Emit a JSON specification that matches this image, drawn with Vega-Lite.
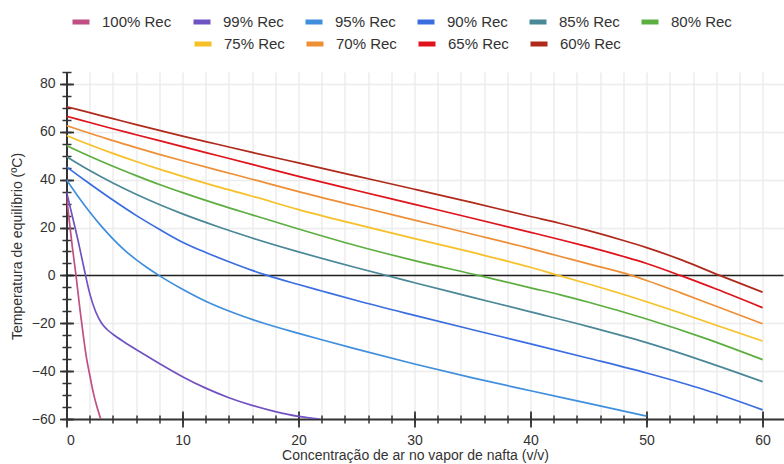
{
  "$schema": "https://vega.github.io/schema/vega-lite/v6.json",
  "width": 717,
  "height": 347,
  "autosize": {"type": "none"},
  "padding": {"left": 66.5, "top": 72, "right": 0.5, "bottom": 45},
  "background": "white",
  "config": {
    "view": {"stroke": null},
    "font": "Liberation Sans",
    "axis": {"labelFont": "Liberation Sans", "titleFont": "Liberation Sans", "labelColor": "#333", "titleColor": "#333", "titleFontWeight": "normal", "labelFontSize": 14, "titleFontSize": 14, "tickColor": "#333", "domainColor": "#333"},
    "legend": {"labelFont": "Liberation Sans", "labelFontSize": 15, "labelColor": "#333", "symbolType": "stroke", "symbolStrokeWidth": 5, "symbolSize": 289, "labelOffset": 10, "columnPadding": 11, "padding": 0, "direction": "horizontal", "orient": "none"}
  },
  "data": {
    "values": [
      {"s": "100% Rec", "x": 0, "y": 33}, {"s": "100% Rec", "x": 0.25, "y": 22.5}, {"s": "100% Rec", "x": 0.5, "y": 12}, {"s": "100% Rec", "x": 0.82, "y": 0}, {"s": "100% Rec", "x": 1.16, "y": -14.2}, {"s": "100% Rec", "x": 1.5, "y": -27}, {"s": "100% Rec", "x": 1.74, "y": -35}, {"s": "100% Rec", "x": 2.0, "y": -41.5}, {"s": "100% Rec", "x": 2.31, "y": -49}, {"s": "100% Rec", "x": 2.6, "y": -54.5}, {"s": "100% Rec", "x": 2.95, "y": -60},
      {"s": "99% Rec", "x": 0, "y": 35}, {"s": "99% Rec", "x": 0.5, "y": 24.8}, {"s": "99% Rec", "x": 1.0, "y": 14.5}, {"s": "99% Rec", "x": 1.5, "y": 3.2}, {"s": "99% Rec", "x": 2.0, "y": -7.5}, {"s": "99% Rec", "x": 2.5, "y": -15}, {"s": "99% Rec", "x": 3.0, "y": -19.8}, {"s": "99% Rec", "x": 3.5, "y": -22.6}, {"s": "99% Rec", "x": 4, "y": -24.6}, {"s": "99% Rec", "x": 5, "y": -27.9}, {"s": "99% Rec", "x": 6.6, "y": -32.7}, {"s": "99% Rec", "x": 8, "y": -36.8}, {"s": "99% Rec", "x": 10, "y": -42.3}, {"s": "99% Rec", "x": 12, "y": -47.1}, {"s": "99% Rec", "x": 14, "y": -51.1}, {"s": "99% Rec", "x": 16, "y": -54.3}, {"s": "99% Rec", "x": 18, "y": -56.9}, {"s": "99% Rec", "x": 20, "y": -58.9}, {"s": "99% Rec", "x": 21.8, "y": -60},
      {"s": "95% Rec", "x": 0, "y": 40}, {"s": "95% Rec", "x": 1, "y": 33}, {"s": "95% Rec", "x": 2, "y": 26.5}, {"s": "95% Rec", "x": 3, "y": 20.6}, {"s": "95% Rec", "x": 4, "y": 15.3}, {"s": "95% Rec", "x": 5, "y": 10.6}, {"s": "95% Rec", "x": 6, "y": 6.6}, {"s": "95% Rec", "x": 7, "y": 3.1}, {"s": "95% Rec", "x": 8, "y": -0.1}, {"s": "95% Rec", "x": 10, "y": -5.8}, {"s": "95% Rec", "x": 12, "y": -10.8}, {"s": "95% Rec", "x": 14, "y": -14.9}, {"s": "95% Rec", "x": 17, "y": -20}, {"s": "95% Rec", "x": 20, "y": -24.2}, {"s": "95% Rec", "x": 22, "y": -26.9}, {"s": "95% Rec", "x": 25, "y": -30.8}, {"s": "95% Rec", "x": 30, "y": -37.0}, {"s": "95% Rec", "x": 35, "y": -42.8}, {"s": "95% Rec", "x": 40, "y": -48.2}, {"s": "95% Rec", "x": 45, "y": -53.5}, {"s": "95% Rec", "x": 50, "y": -58.8},
      {"s": "90% Rec", "x": 0, "y": 45.4}, {"s": "90% Rec", "x": 1, "y": 41.8}, {"s": "90% Rec", "x": 2, "y": 38.3}, {"s": "90% Rec", "x": 4, "y": 31.5}, {"s": "90% Rec", "x": 6, "y": 25.1}, {"s": "90% Rec", "x": 8, "y": 19.3}, {"s": "90% Rec", "x": 10, "y": 13.9}, {"s": "90% Rec", "x": 12, "y": 9.6}, {"s": "90% Rec", "x": 14, "y": 5.7}, {"s": "90% Rec", "x": 16, "y": 2.1}, {"s": "90% Rec", "x": 17.3, "y": 0}, {"s": "90% Rec", "x": 20, "y": -3.8}, {"s": "90% Rec", "x": 22, "y": -6.5}, {"s": "90% Rec", "x": 25, "y": -10.5}, {"s": "90% Rec", "x": 30, "y": -16.7}, {"s": "90% Rec", "x": 35, "y": -22.7}, {"s": "90% Rec", "x": 40, "y": -28.6}, {"s": "90% Rec", "x": 45, "y": -34.6}, {"s": "90% Rec", "x": 50, "y": -40.8}, {"s": "90% Rec", "x": 55, "y": -47.8}, {"s": "90% Rec", "x": 60, "y": -56.2},
      {"s": "85% Rec", "x": 0, "y": 49.6}, {"s": "85% Rec", "x": 2, "y": 43.8}, {"s": "85% Rec", "x": 4, "y": 38.6}, {"s": "85% Rec", "x": 6, "y": 33.9}, {"s": "85% Rec", "x": 8, "y": 29.6}, {"s": "85% Rec", "x": 10, "y": 25.7}, {"s": "85% Rec", "x": 13, "y": 20.45}, {"s": "85% Rec", "x": 16, "y": 15.65}, {"s": "85% Rec", "x": 20, "y": 9.85}, {"s": "85% Rec", "x": 25, "y": 3.2}, {"s": "85% Rec", "x": 30, "y": -3.05}, {"s": "85% Rec", "x": 35, "y": -9.15}, {"s": "85% Rec", "x": 40, "y": -15.25}, {"s": "85% Rec", "x": 45, "y": -21.4}, {"s": "85% Rec", "x": 50, "y": -28.1}, {"s": "85% Rec", "x": 55, "y": -35.9}, {"s": "85% Rec", "x": 60, "y": -44.4},
      {"s": "80% Rec", "x": 0, "y": 54.3}, {"s": "80% Rec", "x": 1, "y": 52.0}, {"s": "80% Rec", "x": 2, "y": 49.8}, {"s": "80% Rec", "x": 4, "y": 45.6}, {"s": "80% Rec", "x": 6, "y": 41.7}, {"s": "80% Rec", "x": 8, "y": 38.0}, {"s": "80% Rec", "x": 10, "y": 34.6}, {"s": "80% Rec", "x": 13, "y": 29.8}, {"s": "80% Rec", "x": 16, "y": 25.3}, {"s": "80% Rec", "x": 20, "y": 19.4}, {"s": "80% Rec", "x": 25, "y": 12.4}, {"s": "80% Rec", "x": 30, "y": 6.2}, {"s": "80% Rec", "x": 35.5, "y": 0}, {"s": "80% Rec", "x": 40, "y": -5.2}, {"s": "80% Rec", "x": 42.5, "y": -8.05}, {"s": "80% Rec", "x": 45, "y": -11.2}, {"s": "80% Rec", "x": 50, "y": -18.2}, {"s": "80% Rec", "x": 55, "y": -26.2}, {"s": "80% Rec", "x": 60, "y": -35.2},
      {"s": "75% Rec", "x": 0, "y": 58.5}, {"s": "75% Rec", "x": 1, "y": 56.5}, {"s": "75% Rec", "x": 2, "y": 54.6}, {"s": "75% Rec", "x": 4, "y": 51.0}, {"s": "75% Rec", "x": 6, "y": 47.6}, {"s": "75% Rec", "x": 8, "y": 44.4}, {"s": "75% Rec", "x": 10, "y": 41.4}, {"s": "75% Rec", "x": 13, "y": 37.1}, {"s": "75% Rec", "x": 16, "y": 33.1}, {"s": "75% Rec", "x": 20, "y": 27.5}, {"s": "75% Rec", "x": 25, "y": 21.3}, {"s": "75% Rec", "x": 30, "y": 15.4}, {"s": "75% Rec", "x": 35, "y": 9.6}, {"s": "75% Rec", "x": 40, "y": 3.4}, {"s": "75% Rec", "x": 42.4, "y": 0}, {"s": "75% Rec", "x": 45, "y": -3.6}, {"s": "75% Rec", "x": 50, "y": -11}, {"s": "75% Rec", "x": 53, "y": -15.8}, {"s": "75% Rec", "x": 56, "y": -20.8}, {"s": "75% Rec", "x": 60, "y": -27.4},
      {"s": "70% Rec", "x": 0, "y": 62.6}, {"s": "70% Rec", "x": 1, "y": 61}, {"s": "70% Rec", "x": 2, "y": 59.4}, {"s": "70% Rec", "x": 4, "y": 56.3}, {"s": "70% Rec", "x": 6, "y": 53.4}, {"s": "70% Rec", "x": 8, "y": 50.6}, {"s": "70% Rec", "x": 10, "y": 47.9}, {"s": "70% Rec", "x": 13, "y": 44}, {"s": "70% Rec", "x": 16, "y": 40.2}, {"s": "70% Rec", "x": 20, "y": 35.0}, {"s": "70% Rec", "x": 25, "y": 29.0}, {"s": "70% Rec", "x": 30, "y": 23.1}, {"s": "70% Rec", "x": 35, "y": 17.2}, {"s": "70% Rec", "x": 40, "y": 11.2}, {"s": "70% Rec", "x": 42.5, "y": 8.0}, {"s": "70% Rec", "x": 45, "y": 4.8}, {"s": "70% Rec", "x": 48.7, "y": 0}, {"s": "70% Rec", "x": 50, "y": -2.1}, {"s": "70% Rec", "x": 53, "y": -7.4}, {"s": "70% Rec", "x": 56, "y": -12.9}, {"s": "70% Rec", "x": 60, "y": -20.2},
      {"s": "65% Rec", "x": 0, "y": 66.5}, {"s": "65% Rec", "x": 2, "y": 63.9}, {"s": "65% Rec", "x": 4, "y": 61.3}, {"s": "65% Rec", "x": 6, "y": 58.8}, {"s": "65% Rec", "x": 8, "y": 56.3}, {"s": "65% Rec", "x": 10, "y": 53.8}, {"s": "65% Rec", "x": 13, "y": 50.1}, {"s": "65% Rec", "x": 16, "y": 46.4}, {"s": "65% Rec", "x": 20, "y": 41.4}, {"s": "65% Rec", "x": 25, "y": 35.5}, {"s": "65% Rec", "x": 30, "y": 29.7}, {"s": "65% Rec", "x": 35, "y": 23.9}, {"s": "65% Rec", "x": 40, "y": 18.0}, {"s": "65% Rec", "x": 42.5, "y": 15.0}, {"s": "65% Rec", "x": 45, "y": 11.9}, {"s": "65% Rec", "x": 48, "y": 7.9}, {"s": "65% Rec", "x": 50, "y": 5.0}, {"s": "65% Rec", "x": 52.9, "y": 0}, {"s": "65% Rec", "x": 56, "y": -5.7}, {"s": "65% Rec", "x": 60, "y": -13.5},
      {"s": "60% Rec", "x": 0, "y": 70.5}, {"s": "60% Rec", "x": 2, "y": 68.0}, {"s": "60% Rec", "x": 4, "y": 65.5}, {"s": "60% Rec", "x": 6, "y": 63.0}, {"s": "60% Rec", "x": 8, "y": 60.6}, {"s": "60% Rec", "x": 10, "y": 58.2}, {"s": "60% Rec", "x": 13, "y": 54.8}, {"s": "60% Rec", "x": 16, "y": 51.4}, {"s": "60% Rec", "x": 20, "y": 47.0}, {"s": "60% Rec", "x": 25, "y": 41.5}, {"s": "60% Rec", "x": 30, "y": 36.0}, {"s": "60% Rec", "x": 35, "y": 30.4}, {"s": "60% Rec", "x": 40, "y": 24.6}, {"s": "60% Rec", "x": 42.5, "y": 21.8}, {"s": "60% Rec", "x": 45, "y": 18.7}, {"s": "60% Rec", "x": 48, "y": 14.6}, {"s": "60% Rec", "x": 50, "y": 11.6}, {"s": "60% Rec", "x": 53, "y": 6.5}, {"s": "60% Rec", "x": 56.3, "y": 0}, {"s": "60% Rec", "x": 60, "y": -7}
    ]
  },
  "resolve": {"axis": {"x": "independent", "y": "independent"}},
  "layer": [
    {
      "data": {"values": [{}]},
      "mark": {"type": "rule", "color": "#222222", "strokeWidth": 1.5},
      "encoding": {
        "x": {"datum": 0, "type": "quantitative", "scale": {"domain": [0, 61.8], "nice": false, "zero": false},
          "axis": {"orient": "bottom", "values": [0,2,4,6,8,10,12,14,16,18,20,22,24,26,28,30,32,34,36,38,40,42,44,46,48,50,52,54,56,58,60], "labels": false, "ticks": false, "title": null, "domain": true, "domainWidth": 2, "grid": true, "gridColor": "#ececec", "gridWidth": 1.5}},
        "x2": {"datum": 61.8},
        "y": {"datum": 0, "type": "quantitative", "scale": {"domain": [-60, 85], "nice": false, "zero": false},
          "axis": {"orient": "left", "values": [-60,-40,-20,0,20,40,60,80], "labels": false, "ticks": false, "title": null, "domain": true, "domainWidth": 2, "grid": true, "gridColor": "#ececec", "gridWidth": 1.5}}
      }
    },
    {
      "transform": [{"filter": {"field": "s", "oneOf": ["100% Rec", "99% Rec", "95% Rec", "90% Rec", "85% Rec", "80% Rec"]}}],
      "mark": {"type": "line", "interpolate": "monotone", "strokeWidth": 1.7, "clip": true},
      "encoding": {
        "x": {"field": "x", "type": "quantitative",
          "axis": {"orient": "bottom", "values": [0,10,20,30,40,50,60], "offset": -8, "tickSize": 16, "tickWidth": 1.8, "domain": false, "grid": false, "labelPadding": 6, "title": "Concentração de ar no vapor de nafta (v/v)", "titleX": 348.5, "titleY": 48, "titleBaseline": "alphabetic", "titleAnchor": "start", "titleAlign": "center"}},
        "y": {"field": "y", "type": "quantitative",
          "axis": {"orient": "left", "values": [-60,-40,-20,0,20,40,60,80], "offset": -7, "tickSize": 14, "tickWidth": 1.8, "domain": false, "grid": false, "labelPadding": 4.5, "title": "Temperatura de equilíbrio (ºC)", "titleX": -49.5, "titleY": 174, "titleAnchor": "start", "titleAlign": "center", "titleBaseline": "bottom", "titleAngle": -90}},
        "color": {"field": "s", "type": "nominal",
          "scale": {"domain": ["100% Rec", "99% Rec", "95% Rec", "90% Rec", "85% Rec", "80% Rec"], "range": ["#bf4f84", "#7152c2", "#3f8fdd", "#3a6ee0", "#4a8797", "#5cae40"]},
          "legend": {"title": null, "orient": "none", "legendX": 3.5, "legendY": -61, "direction": "horizontal"}}
      }
    },
    {
      "transform": [{"filter": {"field": "s", "oneOf": ["75% Rec", "70% Rec", "65% Rec", "60% Rec"]}}],
      "mark": {"type": "line", "interpolate": "monotone", "strokeWidth": 1.7, "clip": true},
      "encoding": {
        "x": {"field": "x", "type": "quantitative",
          "axis": {"orient": "bottom", "values": [0,2,4,6,8,10,12,14,16,18,20,22,24,26,28,30,32,34,36,38,40,42,44,46,48,50,52,54,56,58,60], "offset": -4, "tickSize": 8, "tickWidth": 1.5, "labels": false, "domain": false, "grid": false, "title": null}},
        "y": {"field": "y", "type": "quantitative",
          "axis": {"orient": "left", "values": [-60,-55,-50,-45,-40,-35,-30,-25,-20,-15,-10,-5,0,5,10,15,20,25,30,35,40,45,50,55,60,65,70,75,80,85], "offset": -4.5, "tickSize": 9, "tickWidth": 1.5, "labels": false, "domain": false, "grid": false, "title": null}},
        "stroke": {"field": "s", "type": "nominal",
          "scale": {"domain": ["75% Rec", "70% Rec", "65% Rec", "60% Rec"], "range": ["#f6c026", "#ee8f36", "#e0121c", "#b02a1c"]},
          "legend": {"title": null, "orient": "none", "legendX": 125.5, "legendY": -39, "direction": "horizontal"}}
      }
    }
  ]
}
